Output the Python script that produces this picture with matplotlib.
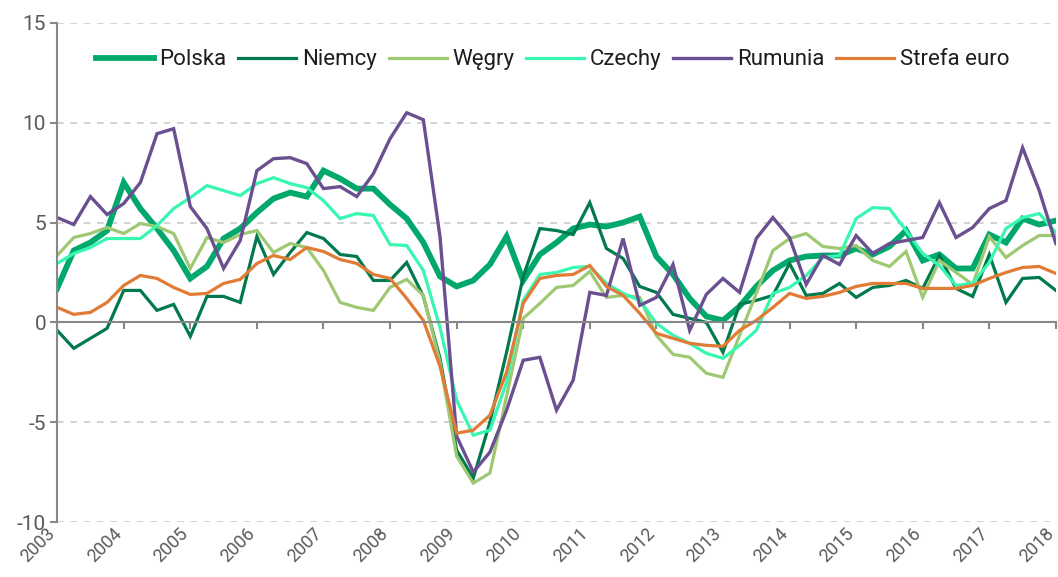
import numpy as np
import matplotlib
matplotlib.use("Agg")
import matplotlib.pyplot as plt
from matplotlib.transforms import ScaledTranslation

plt.rcParams['font.family'] = ['Roboto', 'DejaVu Sans']

# quarterly data, 2003Q1 - 2018Q1
years = [str(y) for y in range(2003, 2019)]

polska = [1.7, 3.6, 4.0, 4.6, 7.0, 5.7, 4.7, 3.6, 2.2, 2.8, 4.2, 4.7, 5.5, 6.2, 6.5, 6.3,
          7.6, 7.2, 6.7, 6.7, 5.9, 5.2, 4.0, 2.3, 1.8, 2.1, 2.9, 4.3, 2.1, 3.4, 4.0, 4.7,
          4.9, 4.8, 5.0, 5.3, 3.3, 2.4, 1.2, 0.3, 0.1, 0.8, 1.8, 2.6, 3.1, 3.3, 3.35, 3.35,
          3.7, 3.4, 3.8, 4.6, 3.1, 3.4, 2.7, 2.7, 4.4, 4.0, 5.2, 4.9, 5.1]
niemcy = [-0.4, -1.3, -0.8, -0.3, 1.6, 1.6, 0.6, 0.9, -0.7, 1.3, 1.3, 1.0, 4.3, 2.4, 3.5, 4.5,
          4.2, 3.4, 3.3, 2.1, 2.1, 3.0, 1.3, -1.8, -6.4, -7.8, -5.0, -1.5, 2.3, 4.7, 4.6, 4.4,
          6.0, 3.7, 3.2, 1.8, 1.5, 0.4, 0.2, 0.0, -1.5, 0.9, 1.1, 1.35, 2.95, 1.35, 1.45, 1.95,
          1.25, 1.75, 1.85, 2.1, 1.7, 3.35, 1.7, 1.3, 3.4, 1.0, 2.2, 2.25, 1.6]
wegry = [3.35, 4.25, 4.45, 4.75, 4.45, 4.95, 4.8, 4.45, 2.7, 4.25, 4.0, 4.4, 4.6, 3.5, 3.95, 3.75,
         2.6, 1.0, 0.75, 0.6, 1.75, 2.15, 1.35, -2.0, -6.7, -8.05, -7.55, -3.7, 0.2, 0.95, 1.75, 1.85,
         2.55, 1.25, 1.35, 1.25, -0.65, -1.6, -1.75, -2.55, -2.75, -0.65, 1.45, 3.6, 4.2, 4.45, 3.8, 3.7,
         3.85, 3.1, 2.8, 3.55, 1.25, 3.1, 2.5, 1.9, 4.3, 3.25, 3.85, 4.35, 4.35]
czechy = [2.95, 3.45, 3.75, 4.2, 4.2, 4.2, 4.85, 5.7, 6.25, 6.85, 6.6, 6.35, 6.95, 7.25, 6.95, 6.75,
          6.1, 5.2, 5.45, 5.35, 3.9, 3.85, 2.6, -0.25, -3.9, -5.65, -5.4, -3.0, 1.1, 2.4, 2.5, 2.75,
          2.8, 1.95, 1.45, 1.1, -0.05, -0.65, -1.05, -1.55, -1.8, -1.15, -0.4, 1.45, 1.75, 2.35, 3.25, 3.35,
          5.2, 5.75, 5.7, 4.6, 3.45, 2.85, 1.85, 1.95, 3.0, 4.7, 5.25, 5.45, 4.5]
rumunia = [5.25, 4.9, 6.3, 5.4, 5.95, 7.0, 9.45, 9.7, 5.8, 4.7, 2.7, 4.1, 7.6, 8.2, 8.25, 7.95,
           6.7, 6.8, 6.3, 7.45, 9.2, 10.5, 10.15, 4.3, -5.7, -7.5, -6.5, -4.4, -1.9, -1.75, -4.4, -2.9,
           1.5, 1.35, 4.2, 0.85, 1.25, 2.9, -0.4, 1.4, 2.2, 1.5, 4.2, 5.25, 4.25, 1.9, 3.35, 2.9,
           4.35, 3.45, 3.95, 4.1, 4.25, 6.0, 4.25, 4.75, 5.7, 6.1, 8.75, 6.6, 3.95]
strefa_euro = [0.75, 0.4, 0.5, 1.0, 1.85, 2.35, 2.2, 1.75, 1.4, 1.45, 1.95, 2.15, 2.95, 3.35, 3.15, 3.75,
               3.55, 3.15, 2.95, 2.4, 2.2, 1.2, 0.1, -2.2, -5.55, -5.4, -4.65, -2.5, 0.95, 2.2, 2.35, 2.4,
               2.85, 1.8, 1.35, 0.45, -0.55, -0.8, -1.05, -1.15, -1.2, -0.4, 0.1, 0.75, 1.45, 1.2, 1.3, 1.5,
               1.8, 1.95, 1.95, 1.95, 1.7, 1.7, 1.7, 1.85, 2.2, 2.5, 2.75, 2.8, 2.45]

series = [
    ("Polska", polska, "#00a86b", 4.2),
    ("Niemcy", niemcy, "#007a4d", 2.3),
    ("Węgry", wegry, "#9ec872", 2.3),
    ("Czechy", czechy, "#38f7b0", 2.3),
    ("Rumunia", rumunia, "#6a5090", 2.4),
    ("Strefa euro", strefa_euro, "#e07c35", 2.3),
]

x = np.arange(len(polska))

fig = plt.figure(figsize=(10.58, 5.77), dpi=100)
ax = fig.add_axes([0.054, 0.0953, 0.944, 0.865])

for name, vals, color, lw in series:
    ax.plot(x, vals, color=color, lw=lw, label=name, solid_joinstyle='miter')

ax.set_xlim(0, 60)
ax.set_ylim(-10, 15)
ax.set_yticks([-10, -5, 0, 5, 10, 15])
ax.set_yticklabels(["-10", "-5", "0", "5", "10", "15"])
ax.yaxis.grid(True, linestyle=(0, (4, 4)), color="#cccccc", lw=1.2)
ax.set_axisbelow(True)

gray = "#888888"
for s in ["top", "right"]:
    ax.spines[s].set_visible(False)
ax.spines["left"].set_color(gray)
ax.spines["left"].set_linewidth(1.5)
ax.spines["bottom"].set_position(("data", 0))
ax.spines["bottom"].set_color(gray)
ax.spines["bottom"].set_linewidth(1.5)

ax.set_xticks(x[::4])
ax.tick_params(axis="x", direction="out", length=5, width=1.5, color=gray, labelbottom=False)
ax.tick_params(axis="y", direction="out", length=5, width=1.5, color=gray,
               labelsize=15, labelcolor="#5a5a5a", pad=3)

# year labels along the bottom
sec = ax.secondary_xaxis("bottom")
sec.set_xticks(x[::4])
sec.set_xticklabels(years, rotation=45, ha="right", rotation_mode="anchor")
sec.tick_params(length=0, labelsize=13, labelcolor="#5a5a5a", pad=2)
sec.spines["bottom"].set_visible(False)
shift = ScaledTranslation(-11 / 100, 0, fig.dpi_scale_trans)
for lab in sec.get_xticklabels():
    lab.set_transform(lab.get_transform() + shift)

leg = ax.legend(loc="center", bbox_to_anchor=(0.496, 0.926), ncol=6, frameon=False,
                fontsize=16, handlelength=2.6, handletextpad=0.25, columnspacing=0.55)
for t in leg.get_texts():
    t.set_color("#1e1e1e")

fig.savefig("out.png", dpi=100)
